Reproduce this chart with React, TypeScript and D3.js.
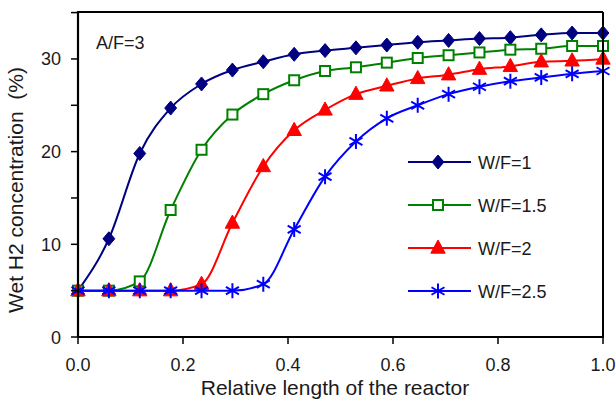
import React from "react";
import * as d3 from "d3";

// Relative reactor positions (18 equally spaced stations)
const positions: number[] = [
  0, 1 / 17, 2 / 17, 3 / 17, 4 / 17, 5 / 17, 6 / 17, 7 / 17, 8 / 17,
  9 / 17, 10 / 17, 11 / 17, 12 / 17, 13 / 17, 14 / 17, 15 / 17, 16 / 17, 1,
];

// Wet H2 concentration (%) along the reactor for each W/F ratio
const wf1: number[] = [5.0, 10.6, 19.8, 24.7, 27.3, 28.8, 29.7, 30.5, 30.9, 31.2, 31.5, 31.8, 32.0, 32.2, 32.3, 32.6, 32.8, 32.8];
const wf15: number[] = [5.0, 5.0, 6.0, 13.7, 20.2, 24.0, 26.2, 27.7, 28.7, 29.1, 29.6, 30.1, 30.4, 30.7, 31.0, 31.1, 31.4, 31.4];
const wf2: number[] = [5.0, 5.0, 5.0, 5.0, 5.7, 12.3, 18.4, 22.3, 24.5, 26.2, 27.1, 27.9, 28.3, 28.9, 29.2, 29.7, 29.8, 30.0];
const wf25: number[] = [5.0, 5.0, 5.0, 5.0, 5.0, 5.0, 5.7, 11.6, 17.3, 21.1, 23.6, 25.0, 26.2, 27.0, 27.6, 28.0, 28.4, 28.7];

const seriesLabels: string[] = ["W/F=1", "W/F=1.5", "W/F=2", "W/F=2.5"];
const seriesColors: string[] = ["#000080", "#008000", "#ff0000", "#0000ff"];
const seriesMarkers: string[] = ["diamond", "square", "triangle", "asterisk"];
const seriesValues: number[][] = [wf1, wf15, wf2, wf25];

const xTicks: number[] = [0, 0.2, 0.4, 0.6, 0.8, 1.0];
const yTicks: number[] = [0, 5, 10, 15, 20, 25, 30, 35];
const yLabelTicks: number[] = [0, 10, 20, 30];

const FONT = "'Liberation Sans', Arial, Helvetica, sans-serif";
const TEXT = "#1a1a1a";

const W = 616;
const H = 399;
const left = 78;
const right = 603;
const top = 12;
const bottom = 337;

function Marker({ kind, cx, cy, color }: { kind: string; cx: number; cy: number; color: string }) {
  if (kind === "diamond") {
    const r = 7;
    return (
      <path
        d={`M${cx},${cy - r} L${cx + r * 0.85},${cy} L${cx},${cy + r} L${cx - r * 0.85},${cy} Z`}
        fill={color}
        stroke={color}
        strokeWidth={1}
      />
    );
  }
  if (kind === "square") {
    const s = 10;
    return (
      <rect
        x={cx - s / 2}
        y={cy - s / 2}
        width={s}
        height={s}
        fill="#ffffff"
        stroke={color}
        strokeWidth={2}
      />
    );
  }
  if (kind === "triangle") {
    const r = 8;
    return (
      <path
        d={`M${cx},${cy - r} L${cx + r * 0.9},${cy + r * 0.65} L${cx - r * 0.9},${cy + r * 0.65} Z`}
        fill={color}
        stroke={color}
        strokeWidth={1}
      />
    );
  }
  // six-armed asterisk
  const r = 7.5;
  const a = r * Math.cos(Math.PI / 6);
  const b = r * Math.sin(Math.PI / 6);
  return (
    <path
      d={`M${cx},${cy - r} L${cx},${cy + r} M${cx - a},${cy - b} L${cx + a},${cy + b} M${cx - a},${cy + b} L${cx + a},${cy - b}`}
      fill="none"
      stroke={color}
      strokeWidth={2}
    />
  );
}

export default function App() {
  const x = d3.scaleLinear().domain([0, 1]).range([left, right]);
  const y = d3.scaleLinear().domain([0, 35]).range([bottom, top + 0.6]);

  const line = d3
    .line<[number, number]>()
    .x((d) => x(d[0]))
    .y((d) => y(d[1]))
    .curve(d3.curveMonotoneX);

  const legendRows = [162, 205, 248, 291];

  return (
    <svg
      width={W}
      height={H}
      style={{ position: "absolute", left: 0, top: 0, background: "#ffffff" }}
      fontFamily={FONT}
    >
      {/* series lines and markers */}
      {seriesValues.map((vals, si) => {
        const pts: [number, number][] = vals.map((v, i) => [positions[i], v]);
        return (
          <g key={seriesLabels[si]}>
            <path d={line(pts) || ""} fill="none" stroke={seriesColors[si]} strokeWidth={2} />
            {pts.map((p, i) => (
              <Marker key={i} kind={seriesMarkers[si]} cx={x(p[0])} cy={y(p[1])} color={seriesColors[si]} />
            ))}
          </g>
        );
      })}

      {/* frame */}
      <line x1={left} x2={right} y1={top} y2={top} stroke="#000" strokeWidth={2} />
      <line x1={right} x2={right} y1={top} y2={bottom} stroke="#000" strokeWidth={2} />
      <line x1={left} x2={left} y1={top - 1} y2={bottom + 1} stroke="#000" strokeWidth={2.2} />
      <line x1={left - 1} x2={right + 1} y1={bottom} y2={bottom} stroke="#000" strokeWidth={2.2} />

      {/* y axis ticks */}
      {yTicks.map((t) => (
        <line key={t} x1={left - 7} x2={left} y1={y(t)} y2={y(t)} stroke="#000" strokeWidth={1.5} />
      ))}
      {yLabelTicks.map((t) => (
        <text key={t} x={61} y={y(t) + 6.5} textAnchor="end" fontSize={18} fill={TEXT}>
          {d3.format("d")(t)}
        </text>
      ))}

      {/* x axis ticks */}
      {xTicks.map((t) => (
        <g key={t}>
          <line x1={x(t)} x2={x(t)} y1={bottom} y2={bottom + 7} stroke="#000" strokeWidth={1.5} />
          <text x={x(t)} y={371} textAnchor="middle" fontSize={18} fill={TEXT}>
            {d3.format(".1f")(t)}
          </text>
        </g>
      ))}

      {/* axis titles */}
      <text x={335} y={395} textAnchor="middle" fontSize={21} fill={TEXT}>
        Relative length of the reactor
      </text>
      <text
        transform="translate(23,190) rotate(-90)"
        textAnchor="middle"
        fontSize={21}
        fill={TEXT}
        style={{ whiteSpace: "pre" }}
      >
        {"Wet H2 concentration  (%)"}
      </text>

      {/* annotation */}
      <text x={96} y={49} fontSize={18} fill={TEXT}>
        A/F=3
      </text>

      {/* legend */}
      {seriesLabels.map((lab, i) => (
        <g key={lab}>
          <line x1={408} x2={471} y1={legendRows[i]} y2={legendRows[i]} stroke={seriesColors[i]} strokeWidth={2} />
          <Marker kind={seriesMarkers[i]} cx={438} cy={legendRows[i]} color={seriesColors[i]} />
          <text x={478} y={legendRows[i] + 6.5} fontSize={18} fill={TEXT}>
            {lab}
          </text>
        </g>
      ))}
    </svg>
  );
}
